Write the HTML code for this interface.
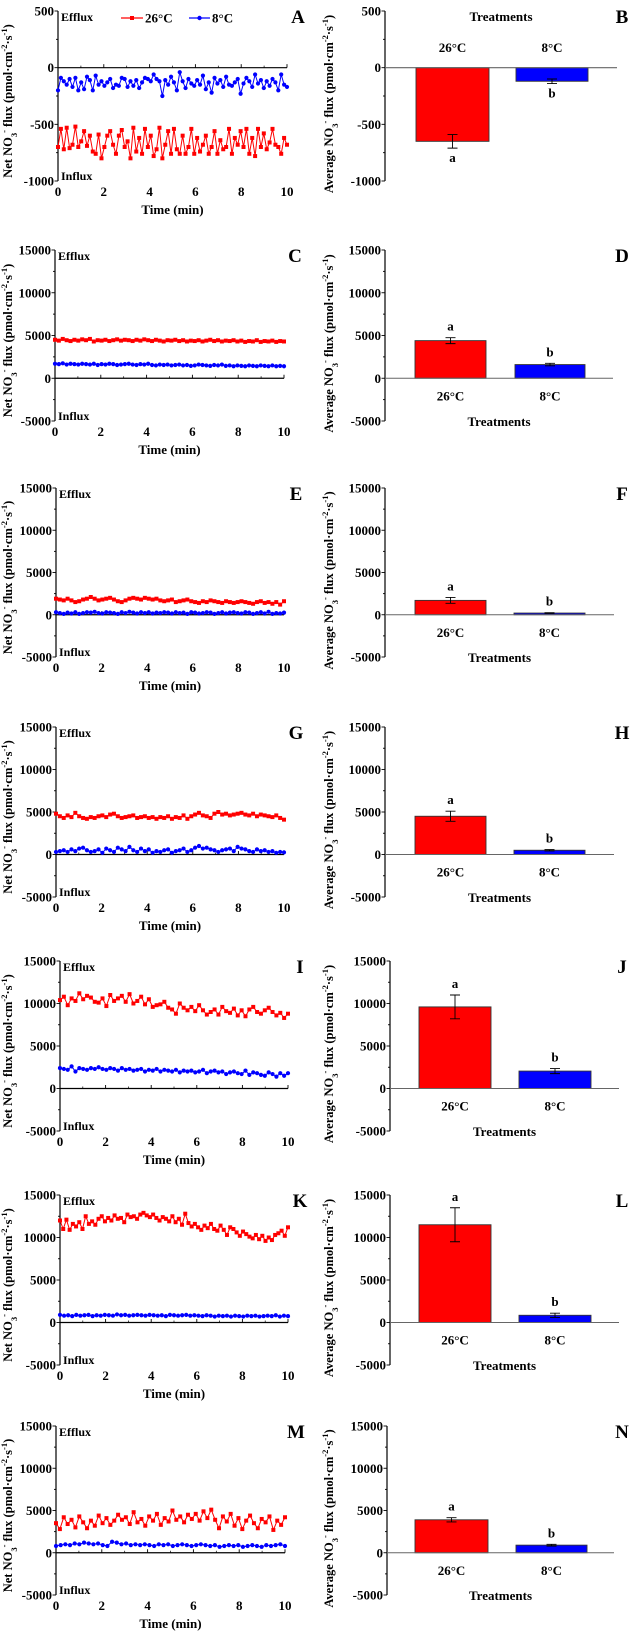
<!DOCTYPE html>
<html><head><meta charset="utf-8"><style>
body{margin:0;background:#fff}
svg{display:block;font-family:"Liberation Serif",serif;font-weight:bold}
</style></head><body>
<svg id="fig" width="632" height="1631" viewBox="0 0 632 1631"></svg>
<script>
// ---------- data ----------
const categories = ["26°C", "8°C"];
const A26 = [-700,-540,-720,-530,-710,-680,-520,-700,-650,-560,-690,-600,-740,-760,-590,-800,-700,-600,-560,-680,-760,-600,-550,-700,-650,-800,-530,-740,-620,-760,-540,-700,-600,-780,-720,-530,-800,-680,-560,-760,-540,-720,-760,-600,-760,-700,-540,-760,-620,-740,-680,-600,-760,-700,-560,-760,-640,-720,-700,-540,-760,-620,-680,-560,-700,-540,-760,-620,-780,-540,-700,-580,-720,-660,-540,-680,-700,-760,-620,-680];
const A8 = [-200,-90,-120,-150,-100,-170,-90,-200,-130,-190,-80,-110,-200,-70,-150,-120,-160,-130,-100,-180,-150,-160,-90,-100,-170,-120,-160,-110,-180,-130,-90,-100,-120,-60,-100,-120,-250,-110,-150,-80,-130,-200,-40,-120,-180,-100,-140,-160,-110,-150,-70,-190,-130,-220,-90,-140,-110,-170,-80,-150,-160,-130,-100,-230,-140,-90,-120,-170,-60,-140,-110,-180,-120,-160,-100,-130,-200,-60,-150,-170];
const C26 = [4500,4400,4600,4450,4350,4500,4400,4550,4450,4600,4300,4450,4400,4500,4350,4450,4550,4400,4500,4450,4350,4500,4400,4550,4450,4350,4500,4400,4300,4450,4400,4500,4350,4450,4300,4400,4350,4450,4300,4400,4500,4350,4450,4300,4400,4350,4450,4300,4400,4250,4350,4300,4450,4250,4350,4300,4400,4250,4350,4300];
const C8 = [1700,1650,1750,1600,1700,1650,1600,1700,1650,1600,1700,1550,1650,1600,1700,1650,1550,1600,1650,1700,1600,1550,1650,1600,1700,1550,1500,1600,1550,1600,1500,1550,1600,1500,1550,1450,1500,1600,1550,1500,1450,1550,1500,1600,1450,1500,1400,1500,1450,1400,1500,1450,1400,1500,1450,1400,1500,1400,1450,1400];
const E26 = [1900,1800,1700,1900,1700,1500,1600,1800,1900,2100,1900,1700,1800,1900,2000,1800,1600,1500,1700,1900,2000,1900,1800,2000,1900,1800,1900,1700,1600,1700,1800,1500,1600,1700,1800,1600,1500,1400,1600,1500,1700,1600,1500,1400,1600,1500,1400,1500,1600,1500,1400,1300,1500,1600,1400,1500,1300,1500,1200,1600];
const E8 = [300,200,100,250,150,300,100,200,300,250,350,200,150,300,250,200,100,300,200,350,250,150,300,200,300,150,250,200,300,250,150,300,200,250,100,300,250,150,200,300,250,100,200,300,150,250,300,200,150,300,250,100,200,300,150,350,100,200,150,250];
const G26 = [4800,4500,4300,4600,4400,4900,4500,4300,4200,4400,4300,4500,4600,4400,4700,4800,4500,4300,4400,4500,4600,4300,4400,4500,4300,4400,4200,4400,4300,4500,4200,4400,4300,4600,4200,4500,4700,4900,4600,4500,4300,4800,5000,4700,4800,4600,4700,4800,4900,4700,4600,4800,4500,4700,4600,4500,4400,4600,4300,4100];
const G8 = [300,400,500,300,600,400,700,800,500,300,400,600,200,700,500,300,800,600,400,900,500,300,700,400,600,200,400,300,500,600,200,400,500,700,300,500,800,1000,700,800,600,500,300,500,600,700,400,900,700,600,400,300,600,400,500,300,400,200,300,250];
const I26 = [10400,10800,9800,10600,10300,11200,10500,10900,10700,10200,10100,10600,9700,11000,10300,10600,10900,10200,11100,10000,10300,10800,9900,10500,9600,9800,9900,10200,9500,9300,8800,10000,9500,9200,9600,9100,9800,9200,8700,9000,9300,8700,9600,9100,8900,9400,8600,9200,8500,9300,9600,9000,8800,9200,9500,9000,8600,8900,8300,8800];
const I8 = [2400,2300,2200,2600,2000,2400,2300,2200,2400,2300,2500,2300,2200,2400,2300,2100,2400,2200,2300,2100,2200,2300,2000,2200,2100,2300,2000,2200,2100,2000,2200,1900,2100,2000,2100,1900,2000,2200,1800,2000,2100,1900,2000,1700,1900,2000,1800,1700,2100,1600,1900,1800,1600,1500,1900,1700,1400,1800,1500,1800];
const K26 = [12000,11000,12100,10900,11600,11300,11800,11000,12500,11600,11900,11500,12200,12500,11900,12300,12000,12600,12200,12300,11800,12700,12400,12500,12200,12700,12900,12600,12400,12700,12300,12000,12400,12200,11900,12500,11800,12200,11500,12800,11700,11300,11600,11200,10900,11400,11100,11600,11000,10800,11400,10900,10300,11200,11000,10600,10200,10700,10400,10100,9900,10300,9800,10200,9600,10000,9700,10300,10500,10800,10200,11200];
const K8 = [900,800,850,750,900,800,850,900,750,850,800,900,850,800,950,850,900,800,850,900,850,800,900,850,800,850,750,900,850,800,850,900,800,850,800,750,850,800,700,800,750,800,700,800,750,700,800,750,800,700,750,800,750,850,700,800,750];
const M26 = [3500,2800,4200,3400,3900,3000,4300,3600,2900,3800,3200,4400,3500,4100,3300,3800,4500,3900,4200,3400,4800,3600,4000,3200,4300,3800,4600,3300,4100,3700,5000,3900,4300,3600,4500,4000,4600,3800,4900,4100,5100,3900,2900,4300,3700,4600,3200,4100,2800,3800,4400,3500,2900,4000,3600,4300,2700,3800,3300,4200];
const M8 = [800,900,1000,900,1100,1000,1200,1100,1000,1100,900,800,1300,1200,1000,1100,900,1000,900,1000,900,800,1000,900,1000,800,900,1000,900,800,900,1000,900,800,900,700,800,900,800,900,700,800,900,800,700,900,800,900,1000,800];
const bars26 = [-650, 4400, 1700, 4500, 9600, 11500, 3900];
const err26 = [60, 350, 350, 600, 1400, 2000, 250];
const bars8 = [-120, 1600, 200, 500, 2050, 850, 900];
const err8 = [20, 150, 40, 80, 300, 250, 100];
const xTicks = [0, 2, 4, 6, 8, 10];
const yTicksA = [500, 0, -500, -1000];
const yTicksC = [15000, 10000, 5000, 0, -5000];
const series26 = [A26, C26, E26, G26, I26, K26, M26];
const series8 = [A8, C8, E8, G8, I8, K8, M8];

// ---------- layout (not data) ----------
const rows = [
 {top:11, bot:181, lx:58, rx:287, bx:385, r:[416,489], b:[516,588], end:617, ymax:500, ymin:-1000, L:"A", R:"B"},
 {top:250, bot:421, lx:55, rx:284, bx:385, r:[415,486], b:[515,585], end:613, ymax:15000, ymin:-5000, L:"C", R:"D"},
 {top:488, bot:657, lx:56, rx:284, bx:385, r:[415,486], b:[514,585], end:614, ymax:15000, ymin:-5000, L:"E", R:"F"},
 {top:727, bot:897, lx:56, rx:284, bx:385, r:[415,486], b:[514,585], end:614, ymax:15000, ymin:-5000, L:"G", R:"H"},
 {top:961, bot:1131, lx:60, rx:288, bx:390, r:[419,491], b:[519,591], end:619, ymax:15000, ymin:-5000, L:"I", R:"J"},
 {top:1195, bot:1365, lx:60, rx:288, bx:390, r:[419,491], b:[519,591], end:619, ymax:15000, ymin:-5000, L:"K", R:"L"},
 {top:1426, bot:1595, lx:56, rx:285, bx:387, r:[415,488], b:[516,587], end:614, ymax:15000, ymin:-5000, L:"M", R:"N"}
];
const RED = "#ff0000", BLUE = "#0000ff";
const FS = 13;
const svg = document.getElementById("fig");
const NS = "http://www.w3.org/2000/svg";
function el(tag, attrs, parent) {
  const e = document.createElementNS(NS, tag);
  for (const k in attrs) e.setAttribute(k, attrs[k]);
  (parent || svg).appendChild(e);
  return e;
}
function txt(x, y, s, size, anchor, parent) {
  const t = el("text", {x:x, y:y, "font-size":size, "text-anchor":anchor || "start", fill:"#000"}, parent);
  t.textContent = s;
  return t;
}
function yTitle(g, cx, cy, prefix) {
  const t = el("text", {transform:`translate(${cx},${cy}) rotate(-90)`, "font-size":12.5, "text-anchor":"middle", fill:"#000"}, g);
  const parts = [[prefix + " NO", 0], ["3", -1], ["-", 1], [" flux (pmol·cm", 0], ["-2", 1], ["·s", 0], ["-1", 1], [")", 0]];
  for (const [s, k] of parts) {
    const sp = el("tspan", {}, t);
    if (k === -1) { sp.setAttribute("baseline-shift", "sub"); sp.setAttribute("font-size", 8.5); }
    if (k === 1) { sp.setAttribute("baseline-shift", "super"); sp.setAttribute("font-size", 8.5); }
    sp.textContent = s;
  }
  return t;
}

rows.forEach((R, i) => {
  const yTicks = i === 0 ? yTicksA : yTicksC;
  const Y = v => R.top + (R.ymax - v) / (R.ymax - R.ymin) * (R.bot - R.top);
  const X = t => R.lx + t / 10 * (R.rx - R.lx);
  const y0 = Y(0);

  // ===== time-course panel =====
  const g = el("g", {});
  
  
  const ya = el("line", {x1:R.lx, y1:R.top, x2:R.lx, y2:R.bot, stroke:"#000", "stroke-width":1.2}, g);
  
  
  const step = (yTicks[0] - yTicks[1]) / 2;
  for (let v = R.ymax; v >= R.ymin; v -= step) el("line", {x1:R.lx - (v % (step*2) === 0 ? 3.5 : 2), y1:Y(v), x2:R.lx, y2:Y(v), stroke:"#000", "stroke-width":0.9}, g);
  yTicks.forEach(v => {
    const t = txt(R.lx - 4, Y(v) + 4.5, String(v), FS, "end", g);
    
    
  });
  const xa = el("line", {x1:R.lx, y1:y0, x2:R.rx, y2:y0, stroke:"#000", "stroke-width":1.2}, g);
  
  
  xTicks.forEach(v => {
    el("line", {x1:X(v), y1:y0, x2:X(v), y2:y0 - 3.5, stroke:"#000", "stroke-width":0.9}, g);
    if (v < 10) el("line", {x1:X(v + 1), y1:y0, x2:X(v + 1), y2:y0 - 2, stroke:"#000", "stroke-width":0.7}, g);
    const t = txt(X(v), R.bot + 15, String(v), FS, "middle", g);
    
    
  });
  const xt = txt((R.lx + R.rx) / 2, R.bot + 33, "Time (min)", FS, "middle", g);
  
  
  const yt = yTitle(g, 12, (R.top + R.bot) / 2 + 5, "Net");
  
  
  const ef = txt(R.lx + 3, R.top + 10, "Efflux", 12, "start", g);
  
  
  const inf = txt(R.lx + 3, R.bot - 1, "Influx", 12, "start", g);
  
  
  const pl = txt(R.lx + 240, R.top + 12, R.L, 19, "middle", g);
  
  

  [[series8[i], BLUE, "8"], [series26[i], RED, "26"]].forEach(([arr, col, nm]) => {
    const n = arr.length;
    const pts = arr.map((v, k) => [X(k * 10 / (n - 1)), Y(v)]);
    const ln = el("polyline", {points:pts.map(p => p.join(",")).join(" "), fill:"none", stroke:col, "stroke-width":1}, g);
    
    
    pts.forEach(p => {
      const m = col === RED
        ? el("rect", {x:p[0] - 2, y:p[1] - 2, width:4, height:4, fill:col}, g)
        : el("circle", {cx:p[0], cy:p[1], r:2.1, fill:col}, g);
      
      
    });
  });

  if (i === 0) {
    const lg = el("g", {}, g);
    
    
    el("line", {x1:121, y1:18, x2:143, y2:18, stroke:RED, "stroke-width":1.2}, lg);
    el("rect", {x:130, y:16, width:4, height:4, fill:RED}, lg);
    txt(145, 22.5, "26°C", FS, "start", lg);
    el("line", {x1:189, y1:18, x2:210, y2:18, stroke:BLUE, "stroke-width":1.2}, lg);
    el("circle", {cx:199.5, cy:18, r:2.2, fill:BLUE}, lg);
    txt(212, 22.5, "8°C", FS, "start", lg);
  }

  // ===== bar panel =====
  const h = el("g", {});
  
  
  const by = el("line", {x1:R.bx, y1:R.top, x2:R.bx, y2:R.bot, stroke:"#000", "stroke-width":1.2}, h);
  
  
  for (let v = R.ymax; v >= R.ymin; v -= step) el("line", {x1:R.bx - (v % (step*2) === 0 ? 3.5 : 2), y1:Y(v), x2:R.bx, y2:Y(v), stroke:"#000", "stroke-width":0.9}, h);
  yTicks.forEach(v => {
    const t = txt(R.bx - 4, Y(v) + 4.5, String(v), FS, "end", h);
    
    
  });
  const byt = yTitle(h, 333, (R.top + R.bot) / 2 + 8, "Average");
  
  
  const vals = [bars26[i], bars8[i]], errs = [err26[i], err8[i]], xs = [R.r, R.b], cols = [RED, BLUE], sig = ["a", "b"];
  vals.forEach((v, k) => {
    const yTop = Math.min(Y(v), y0), hh = Math.abs(Y(v) - y0);
    const b = el("rect", {x:xs[k][0], y:yTop, width:xs[k][1] - xs[k][0], height:Math.max(hh, 1), fill:cols[k], stroke:"#333", "stroke-width":0.9}, h);
    
    
    const cx = (xs[k][0] + xs[k][1]) / 2;
    const e1 = Y(v + errs[k]), e2 = Y(v - errs[k]);
    const eb = el("path", {d:`M${cx},${e1}V${e2}M${cx - 5},${e1}H${cx + 5}M${cx - 5},${e2}H${cx + 5}`, stroke:"#000", "stroke-width":0.9, fill:"none"}, h);
    
    
    const ly = v >= 0 ? e1 - 7 : e2 + 14;
    const sl = txt(cx, ly, sig[k], FS, "middle", h);
    
    
    const cl = txt(cx, i === 0 ? 52 : y0 + 22, categories[k], FS, "middle", h);
    
    
  });
  const zl = el("line", {x1:R.bx, y1:y0, x2:R.end, y2:y0, stroke:"#666", "stroke-width":1.1}, h);
  
  
  const tr = txt((R.bx + R.end) / 2, i === 0 ? 21 : R.bot + 5, "Treatments", FS, "middle", h);
  
  
  const pr = txt(622, R.top + 12, R.R, 19, "middle", h);
  
  
});
</script>
</body></html>
